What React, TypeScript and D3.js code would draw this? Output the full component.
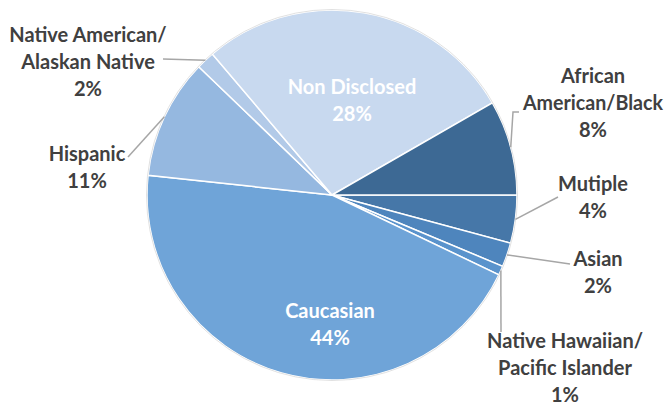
import React from "react";
import * as d3 from "d3";

const categories = [
  "Mutiple",
  "Asian",
  "Native Hawaiian/Pacific Islander",
  "Caucasian",
  "Hispanic",
  "Native American/Alaskan Native",
  "Non Disclosed",
  "African American/Black",
];
const values = [4.2, 2.1, 0.8, 44.6, 10.5, 1.6, 27.9, 8.3];
const pctLabels = ["4%", "2%", "1%", "44%", "11%", "2%", "28%", "8%"];
const colors = ["#4677a8", "#4e85bd", "#5a93cc", "#6fa4d8", "#95b8e0", "#b2cae8", "#c8d9ef", "#3d6994"];

const W = 667, H = 405;
const cx = 332, cy = 195, R = 185;

type Lab = { lines: string[]; x: number; y: number; inside?: boolean; leader?: [number, number][]; fit?: number[] };
const labelLayout: Lab[] = [
  { lines: ["Mutiple"], x: 593, y: 183, leader: [[558, 197]] },
  { lines: ["Asian"], x: 598, y: 258, leader: [[570, 264]] },
  { lines: ["Native Hawaiian/", "Pacific Islander"], x: 565, y: 340, leader: [[501, 332]] },
  { lines: ["Caucasian"], x: 330, y: 310, inside: true },
  { lines: ["Hispanic"], x: 87, y: 153, leader: [[128, 157]] },
  { lines: ["Native American/", "Alaskan Native"], x: 88, y: 34, leader: [[163, 59]] },
  { lines: ["Non Disclosed"], x: 352, y: 86, inside: true },
  { lines: ["African", "American/Black"], x: 593, y: 75, leader: [[513, 112], [519, 112]], fit: [0, 140] },
];

export default function App() {
  const data = categories.map((c, i) => ({ c, v: values[i], i }));
  const pie = d3
    .pie<any>()
    .value((d) => d.v)
    .sort(null)
    .startAngle(Math.PI / 2)
    .endAngle(Math.PI / 2 + 2 * Math.PI);
  const arcs = pie(data);
  const arc = d3.arc<any>().innerRadius(0).outerRadius(R);
  const lineH = 27;
  return (
    <svg
      width={W}
      height={H}
      style={{ position: "absolute", left: 0, top: 0, background: "#fff" }}
      fontFamily="Lato, 'Open Sans', sans-serif"
      fontWeight="bold"
      fontSize={20}
    >
      <g transform={`translate(${cx},${cy})`}>
        {arcs.map((a, i) => (
          <path key={i} d={arc(a) || ""} fill={colors[i]} stroke="#ffffff" strokeWidth={1.5} />
        ))}
        <circle r={R + 0.5} fill="none" stroke="#d9d9d9" strokeWidth={0.8} />
      </g>
      {arcs.map((a, i) => {
        const L = labelLayout[i];
        if (!L.leader) return null;
        const mid = (a.startAngle + a.endAngle) / 2;
        const ex = cx + R * Math.sin(mid);
        const ey = cy - R * Math.cos(mid);
        const pts: [number, number][] = [[ex, ey], ...L.leader];
        return (
          <path
            key={"l" + i}
            d={d3.line()(pts) || ""}
            fill="none"
            stroke="#a6a6a6"
            strokeWidth={1.5}
          />
        );
      })}
      {arcs.map((a, i) => {
        const L = labelLayout[i];
        const lines = [...L.lines, pctLabels[i]];
        return (
          <text
            key={"t" + i}
            textAnchor="middle"
            dominantBaseline="central"
            fill={L.inside ? "#ffffff" : "#404040"}
          >
            {lines.map((s, k) => {
              const tl = L.fit && L.fit[k] ? L.fit[k] : undefined;
              return (
                <tspan
                  key={k}
                  x={L.x}
                  y={L.y + k * lineH}
                  {...(tl ? { textLength: tl, lengthAdjust: "spacingAndGlyphs" } : {})}
                >
                  {s}
                </tspan>
              );
            })}
          </text>
        );
      })}
    </svg>
  );
}
